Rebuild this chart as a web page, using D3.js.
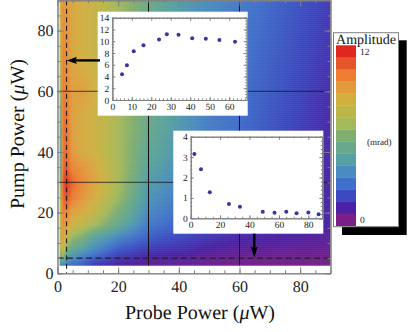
<!DOCTYPE html>
<html>
<head>
<meta charset="utf-8">
<title>Amplitude vs probe and pump power</title>
<style>
body { margin: 0; background: white; }
svg { display: block; font-family: "Liberation Serif", serif; text-rendering: geometricPrecision; }
.frame path, .frame line { stroke: #808080; stroke-width: 1px; }
.frame text { fill: #222; }
</style>
</head>
<body>
<svg id="chart" width="415" height="332"></svg>
<script src="https://d3js.org/d3.v7.min.js"></script>
<script>

// heat map samples (amplitude in mrad)
var probeGrid = [0.7, 1.8, 3, 5, 8, 12, 20, 30, 40, 50, 60, 70, 80, 90];
var pumpGrid = [2.5, 5, 8, 12, 16, 20, 25, 30, 35, 40, 50, 60, 70, 80, 90];
var amp2 = [3, 3, 2.6, 2.4, 2.2, 1.3, 0.8, 0.5, 0.4, 0.3, 0.2, 0.1, 0.1, 0.1];
var amp5 = [5, 6, 4, 3.5, 2.8, 2.2, 1.3, 0.8, 0.7, 0.4, 0.3, 0.2, 0.2, 0.1];
var amp8 = [6.5, 8.5, 6, 5, 4.4, 3.4, 2.1, 1.4, 1.2, 0.8, 0.6, 0.5, 0.4, 0.4];
var amp12 = [7, 9.5, 8.2, 6.5, 6, 4.6, 3.3, 2.2, 1.7, 1.3, 1, 0.9, 0.8, 0.6];
var amp16 = [7, 10, 9.3, 8.4, 7.8, 7, 5, 2.8, 2.2, 1.9, 1.5, 1.2, 1, 0.8];
var amp20 = [7, 10.4, 10, 9.2, 8.8, 8, 5.8, 3.3, 2.5, 2.2, 1.9, 1.5, 1.2, 0.9];
var amp25 = [5.5, 11, 11.2, 10.3, 9.6, 8.8, 6.7, 3.7, 2.9, 2.4, 2, 1.6, 1.2, 0.9];
var amp30 = [4, 11.3, 11.8, 10.8, 10, 9.2, 7, 4.1, 3.2, 2.6, 2.1, 1.6, 1.2, 0.9];
var amp35 = [2.5, 11, 11, 10, 9.6, 9, 7.1, 4.5, 3.5, 2.8, 2.2, 1.7, 1.3, 0.9];
var amp40 = [2.5, 10.8, 10.6, 9.5, 8.8, 8.4, 7, 4.8, 3.8, 2.9, 2.3, 1.8, 1.4, 1];
var amp50 = [3, 10.8, 10.5, 9.2, 8.8, 8.4, 7, 5.2, 4, 3, 2.5, 2, 1.5, 1];
var amp60 = [5, 10.6, 10, 9.4, 9.3, 8.6, 7, 5.2, 4, 3.1, 2.6, 2.1, 1.6, 1.1];
var amp70 = [6.5, 10.3, 9.8, 9, 8.6, 8.2, 6.9, 5.2, 4, 3.2, 2.7, 2.2, 1.7, 1.2];
var amp80 = [7.5, 10, 9.6, 9, 8.6, 8.1, 6.8, 5.2, 4.1, 3.3, 2.8, 2.3, 1.8, 1.3];
var amp90 = [8, 9.8, 9.4, 9, 8.6, 8.2, 6.8, 5.3, 4.2, 3.4, 2.9, 2.4, 1.9, 1.4];
var ampRows = [amp2, amp5, amp8, amp12, amp16, amp20, amp25, amp30, amp35, amp40, amp50, amp60, amp70, amp80, amp90];

// legend bands, bottom to top
var bandColors = ["#7c1e88", "#4b22a6", "#3c49c2", "#4070cc", "#4a8cc0", "#55a0a2", "#67a98a", "#80ae70",
                  "#a3b95a", "#bcb648", "#d2b040", "#e29b3b", "#ef7d31", "#e6552a", "#e1261f"];

// top inset: amplitude against probe power at fixed pump
var topProbe = [5, 7.5, 11, 16, 24, 28, 34, 41, 48, 55, 63];
var topAmp = [4.4, 5.9, 8.3, 9.3, 10.3, 11.2, 11.1, 10.5, 10.4, 10.2, 9.9];

// lower inset: amplitude against pump power at fixed probe
var lowPump = [2.5, 7, 13, 26, 33.5, 49, 57, 65, 72, 80, 87];
var lowAmp = [3.15, 2.4, 1.28, 0.7, 0.57, 0.32, 0.27, 0.32, 0.25, 0.28, 0.2];

var mainTicks = [0, 20, 40, 60, 80];
var mainMinor = d3.range(0, 91, 5);
var solidLines = [30, 60];
var probeCut = 3, pumpCut = 5;

var svg = d3.select("#chart");

var x = d3.scaleLinear().domain([0, 90]).range([57.5, 330.5]);
var y = d3.scaleLinear().domain([0, 90]).range([273.3, 0.3]);

var colorAt = d3.scaleLinear()
    .domain(bandColors.map(function(c, i) { return 12 * i / (bandColors.length - 1); }))
    .range(bandColors)
    .clamp(true);

// bilinear shading between samples, like the density plot does
function ampAt(px, py) {
  var i = Math.max(0, Math.min(d3.bisectRight(probeGrid, px) - 1, probeGrid.length - 2));
  var j = Math.max(0, Math.min(d3.bisectRight(pumpGrid, py) - 1, pumpGrid.length - 2));
  var tx = (px - probeGrid[i]) / (probeGrid[i + 1] - probeGrid[i]);
  var ty = (py - pumpGrid[j]) / (pumpGrid[j + 1] - pumpGrid[j]);
  var a = ampRows[j][i] + (ampRows[j][i + 1] - ampRows[j][i]) * tx;
  var b = ampRows[j + 1][i] + (ampRows[j + 1][i + 1] - ampRows[j + 1][i]) * tx;
  return a + (b - a) * ty;
}

var step = 2;
var shade = [];
d3.range(x(probeGrid[0]), x(90), step).forEach(function(sx) {
  d3.range(y(90), y(2.5), step).forEach(function(sy) {
    shade.push({sx: sx, sy: sy, v: ampAt(x.invert(sx + step / 2), y.invert(sy + step / 2))});
  });
});

svg.append("g").selectAll("rect")
    .data(shade)
  .enter().append("rect")
    .attr("x", function(d) { return d.sx; })
    .attr("y", function(d) { return d.sy; })
    .attr("width", step + 0.5)
    .attr("height", step + 0.5)
    .attr("fill", function(d) { return colorAt(d.v); });

// white strip under the map has to stay clean for the ticks
svg.append("rect").attr("x", x(0)).attr("y", y(2.5)).attr("width", x(90) - x(0)).attr("height", y(0) - y(2.5)).attr("fill", "white");
svg.append("rect").attr("x", x(90)).attr("y", 0).attr("width", 3).attr("height", y(0)).attr("fill", "white");

// cut lines
svg.append("g").selectAll("line").data(solidLines).enter().append("line")
    .attr("x1", function(d) { return x(d); }).attr("x2", function(d) { return x(d); })
    .attr("y1", y(90)).attr("y2", y(2.5))
    .attr("stroke", "#111").attr("stroke-width", 1);
svg.append("g").selectAll("line").data(solidLines).enter().append("line")
    .attr("x1", x(0)).attr("x2", x(90))
    .attr("y1", function(d) { return y(d); }).attr("y2", function(d) { return y(d); })
    .attr("stroke", "#111").attr("stroke-opacity", 0.75).attr("stroke-width", 1);

svg.append("line").attr("x1", x(probeCut)).attr("x2", x(probeCut)).attr("y1", y(90)).attr("y2", y(0))
    .attr("stroke", "#111").attr("stroke-width", 1).attr("stroke-dasharray", "5,3.5");
svg.append("line").attr("x1", x(0)).attr("x2", x(90)).attr("y1", y(pumpCut)).attr("y2", y(pumpCut))
    .attr("stroke", "#222").attr("stroke-width", 1.2).attr("stroke-dasharray", "6,3.5");

// four sided frame with inward ticks
function drawFrame(g, xs, ys, xMajor, xMinor, yMajor, yMinor, len, fontSize, padX, padY, fmt) {
  var h = ys.range()[0], w = xs.range()[1], l = xs.range()[0], t = ys.range()[1];

  function minor(axis, vals, tx) {
    g.append("g").attr("class", "frame").attr("transform", tx)
        .call(axis.tickValues(vals).tickSize(-len / 2).tickSizeOuter(0).tickFormat(""));
  }
  minor(d3.axisBottom(xs), xMinor, "translate(0," + h + ")");
  minor(d3.axisTop(xs), xMinor, "translate(0," + t + ")");
  minor(d3.axisLeft(ys), yMinor, "translate(" + l + ",0)");
  minor(d3.axisRight(ys), yMinor, "translate(" + w + ",0)");

  g.append("g").attr("class", "frame").attr("transform", "translate(0," + h + ")")
      .call(d3.axisBottom(xs).tickValues(xMajor).tickSize(-len).tickSizeOuter(0).tickPadding(padX).tickFormat(fmt))
      .attr("font-family", "Liberation Serif").attr("font-size", fontSize);
  g.append("g").attr("class", "frame").attr("transform", "translate(" + l + ",0)")
      .call(d3.axisLeft(ys).tickValues(yMajor).tickSize(-len).tickSizeOuter(0).tickPadding(padY).tickFormat(fmt))
      .attr("font-family", "Liberation Serif").attr("font-size", fontSize);
  g.append("g").attr("class", "frame").attr("transform", "translate(0," + t + ")")
      .call(d3.axisTop(xs).tickValues(xMajor).tickSize(-len).tickSizeOuter(0).tickFormat(""));
  g.append("g").attr("class", "frame").attr("transform", "translate(" + w + ",0)")
      .call(d3.axisRight(ys).tickValues(yMajor).tickSize(-len).tickSizeOuter(0).tickFormat(""));
}

var intFormat = d3.format("d");

drawFrame(svg.append("g"), x, y, mainTicks, mainMinor, mainTicks, mainMinor, 6, 16, 7, 4, intFormat);

// axis titles
function powerTitle(sel, label) {
  sel.attr("font-size", 20).attr("fill", "#111").attr("text-anchor", "middle");
  sel.append("tspan").text(label + " (");
  sel.append("tspan").attr("font-style", "italic").text("\u03bc");
  sel.append("tspan").text("W)");
}
svg.append("text").attr("x", 200).attr("y", 319).call(powerTitle, "Probe Power");
svg.append("text").attr("transform", "translate(24,134) rotate(-90)").call(powerTitle, "Pump Power");

// insets
function drawInset(box, xs, ys, xLabels, xMinor, yLabels, yMinor, xv, yv) {
  var g = svg.append("g");
  g.append("rect").attr("x", box[0]).attr("y", box[1]).attr("width", box[2] - box[0]).attr("height", box[3] - box[1])
      .attr("fill", "white");
  drawFrame(g, xs, ys, xLabels, xMinor, yLabels, yMinor, 3, 9.5, 3, 3, intFormat);
  g.selectAll("circle").data(xv).enter().append("circle")
      .attr("cx", function(d) { return xs(d); })
      .attr("cy", function(d, i) { return ys(yv[i]); })
      .attr("r", 2)
      .attr("fill", "#3a35a0");
}

drawInset([97.7, 11.7, 247.7, 115.7],
    d3.scaleLinear().domain([0, 69]).range([112.3, 246.7]),
    d3.scaleLinear().domain([0, 14]).range([100, 17.7]),
    d3.range(0, 61, 10), d3.range(0, 69, 2), d3.range(0, 15, 2), d3.range(0, 14.1, 0.5),
    topProbe, topAmp);

drawInset([173.3, 130.7, 323.3, 233.7],
    d3.scaleLinear().domain([0, 89.5]).range([190.7, 322.3]),
    d3.scaleLinear().domain([0, 4]).range([218.3, 136.7]),
    d3.range(0, 81, 20), d3.range(0, 89, 5), d3.range(0, 5, 1), d3.range(0, 4.01, 0.2),
    lowPump, lowAmp);

// arrows from the insets to their cuts
var arrow = svg.append("g");
arrow.append("line").attr("x1", 100).attr("x2", 74).attr("y1", 60.4).attr("y2", 60.4).attr("stroke", "black").attr("stroke-width", 2.4);
arrow.append("path").attr("d", "M66.7,60.4L77,56.8L75,60.4L77,64Z").attr("fill", "black");
arrow.append("line").attr("x1", 254.3).attr("x2", 254.3).attr("y1", 233.7).attr("y2", 250).attr("stroke", "black").attr("stroke-width", 2.4);
arrow.append("path").attr("d", "M254.3,257.5L250.8,246.5L254.3,248.5L257.8,246.5Z").attr("fill", "black");

// legend
var legend = svg.append("g");
legend.append("rect").attr("x", 342).attr("y", 40.3).attr("width", 64.7).attr("height", 194.7).attr("fill", "black");
legend.append("rect").attr("x", 333.5).attr("y", 32.7).attr("width", 65).attr("height", 194).attr("fill", "white")
    .attr("stroke", "#808080").attr("stroke-width", 1);

var bandY = d3.scaleBand().domain(d3.range(bandColors.length)).range([225.7, 45.3]);
legend.selectAll(".band").data(bandColors).enter().append("rect")
    .attr("class", "band")
    .attr("x", 336).attr("width", 20)
    .attr("y", function(d, i) { return bandY(i); })
    .attr("height", bandY.bandwidth() + 0.3)
    .attr("fill", function(d) { return d; });

legend.append("text").attr("x", 366).attr("y", 44).attr("text-anchor", "middle").attr("font-size", 14).attr("fill", "#111").text("Amplitude");
legend.append("text").attr("x", 360).attr("y", 55).attr("font-size", 9.5).attr("fill", "#222").text("12");
legend.append("text").attr("x", 360).attr("y", 222.5).attr("font-size", 9.5).attr("fill", "#222").text("0");
legend.append("text").attr("x", 367).attr("y", 145).attr("font-size", 9).attr("fill", "#222").text("(mrad)");

</script>
</body>
</html>
